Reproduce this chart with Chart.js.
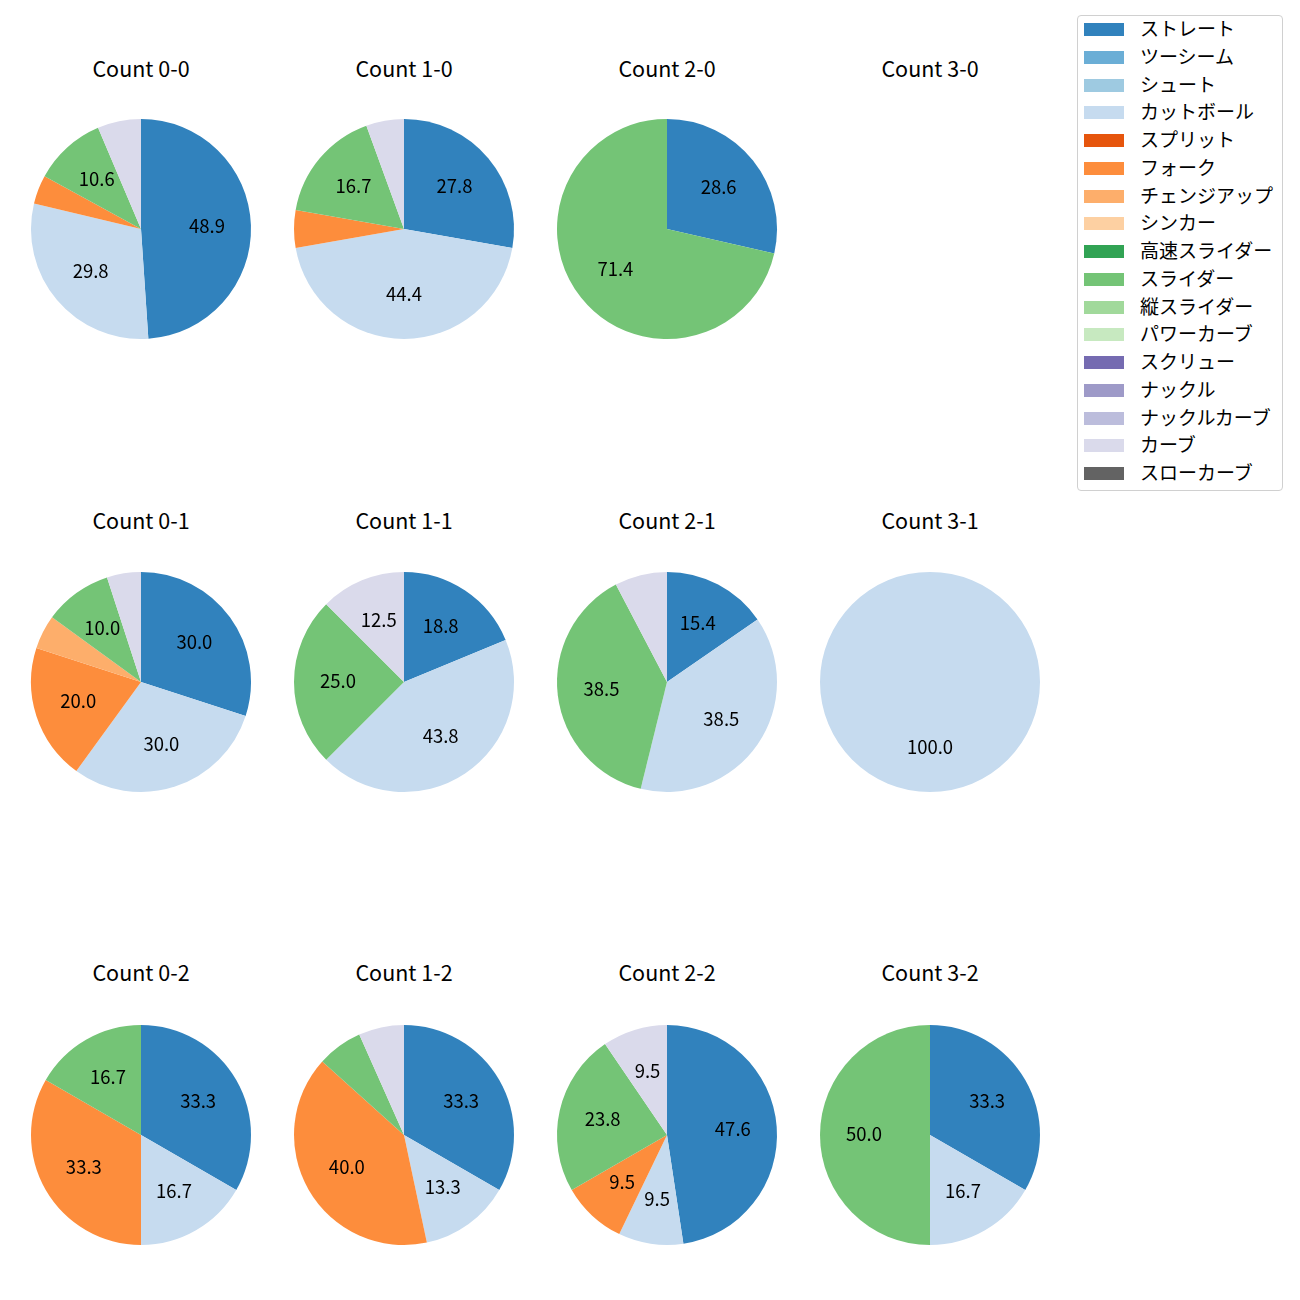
<!DOCTYPE html>
<html>
<head>
<meta charset="utf-8">
<script src="https://cdn.jsdelivr.net/npm/chart.js@4.4.0/dist/chart.umd.min.js"></script>
<style>
  body { margin: 0; background: #fff; font-family: "Noto Sans CJK JP", "Noto Sans", sans-serif; }
  #fig { position: relative; width: 1300px; height: 1300px; }
  .pie { position: absolute; width: 240px; height: 240px; }
  .title { position: absolute; width: 240px; text-align: center; font-size: 21.5px; line-height: 24px; color: #000; }
  #legend { position: absolute; left: 1077px; top: 15px; width: 204px; height: 474px;
            border: 1px solid #d0d0d0; border-radius: 4px; background: #fff; }
  .row { position: absolute; left: 0; height: 28px; }
  .sw { position: absolute; left: 6px; top: 7px; width: 40px; height: 13px; }
  .lt { position: absolute; left: 62px; top: -2px; font-size: 19px; line-height: 28px; white-space: nowrap; color: #000; }
</style>
</head>
<body>
<div id="fig"></div>
<script>
const pitchTypes = ["ストレート", "ツーシーム", "シュート", "カットボール", "スプリット", "フォーク",
  "チェンジアップ", "シンカー", "高速スライダー", "スライダー", "縦スライダー", "パワーカーブ",
  "スクリュー", "ナックル", "ナックルカーブ", "カーブ", "スローカーブ"];
const pitchColors = ["#3182bd", "#6baed6", "#9ecae1", "#c6dbef", "#e6550d", "#fd8d3c",
  "#fdae6b", "#fdd0a2", "#31a354", "#74c476", "#a1d99b", "#c7e9c0",
  "#756bb1", "#9e9ac8", "#bcbddc", "#dadaeb", "#636363"];

const countLabels = ["Count 0-0", "Count 1-0", "Count 2-0", "Count 3-0",
  "Count 0-1", "Count 1-1", "Count 2-1", "Count 3-1",
  "Count 0-2", "Count 1-2", "Count 2-2", "Count 3-2"];

// pitches thrown per type (same order as pitchTypes)
const count00 = [23, 0, 0, 14, 0, 2, 0, 0, 0, 5, 0, 0, 0, 0, 0, 3, 0];
const count10 = [5, 0, 0, 8, 0, 1, 0, 0, 0, 3, 0, 0, 0, 0, 0, 1, 0];
const count20 = [2, 0, 0, 0, 0, 0, 0, 0, 0, 5, 0, 0, 0, 0, 0, 0, 0];
const count30 = [0, 0, 0, 0, 0, 0, 0, 0, 0, 0, 0, 0, 0, 0, 0, 0, 0];
const count01 = [6, 0, 0, 6, 0, 4, 1, 0, 0, 2, 0, 0, 0, 0, 0, 1, 0];
const count11 = [3, 0, 0, 7, 0, 0, 0, 0, 0, 4, 0, 0, 0, 0, 0, 2, 0];
const count21 = [2, 0, 0, 5, 0, 0, 0, 0, 0, 5, 0, 0, 0, 0, 0, 1, 0];
const count31 = [0, 0, 0, 1, 0, 0, 0, 0, 0, 0, 0, 0, 0, 0, 0, 0, 0];
const count02 = [2, 0, 0, 1, 0, 2, 0, 0, 0, 1, 0, 0, 0, 0, 0, 0, 0];
const count12 = [5, 0, 0, 2, 0, 6, 0, 0, 0, 1, 0, 0, 0, 0, 0, 1, 0];
const count22 = [10, 0, 0, 2, 0, 2, 0, 0, 0, 5, 0, 0, 0, 0, 0, 2, 0];
const count32 = [2, 0, 0, 1, 0, 0, 0, 0, 0, 3, 0, 0, 0, 0, 0, 0, 0];
const countData = [count00, count10, count20, count30, count01, count11, count21, count31,
  count02, count12, count22, count32];

const colX = [141, 404, 667, 930];
const rowY = [229, 682, 1135];
const titleY = [56, 508, 960];

// percentage labels at 0.6 radius, skipped for small wedges
const pctLabels = {
  id: "pctLabels",
  afterDatasetsDraw(chart) {
    const ctx = chart.ctx;
    const vals = chart.data.datasets[0].data;
    const total = vals.reduce((a, b) => a + b, 0);
    if (!total) return;
    ctx.save();
    ctx.font = '18.5px "Noto Sans CJK JP", "Noto Sans", sans-serif';
    ctx.fillStyle = "#000";
    ctx.textAlign = "center";
    ctx.textBaseline = "middle";
    chart.getDatasetMeta(0).data.forEach((arc, i) => {
      const pct = vals[i] / total * 100;
      if (pct < 8) return;
      const mid = (arc.startAngle + arc.endAngle) / 2;
      const r = arc.outerRadius * 0.6;
      ctx.fillText(pct.toFixed(1), arc.x + Math.cos(mid) * r, arc.y + Math.sin(mid) * r - 1);
    });
    ctx.restore();
  }
};

const fig = document.getElementById("fig");

countLabels.forEach((label, k) => {
  const cx = colX[k % 4];
  const cy = rowY[Math.floor(k / 4)];

  const t = document.createElement("div");
  t.className = "title";
  t.style.left = (cx - 120) + "px";
  t.style.top = titleY[Math.floor(k / 4)] + "px";
  t.textContent = label;
  fig.appendChild(t);

  const box = document.createElement("div");
  box.className = "pie";
  box.style.left = (cx - 120) + "px";
  box.style.top = (cy - 120) + "px";
  const cv = document.createElement("canvas");
  cv.width = 240;
  cv.height = 240;
  box.appendChild(cv);
  fig.appendChild(box);

  new Chart(cv, {
    type: "pie",
    data: {
      labels: pitchTypes,
      datasets: [{
        data: countData[k],
        backgroundColor: pitchColors,
        borderWidth: 0
      }]
    },
    options: {
      responsive: false,
      animation: false,
      layout: { padding: 10 },
      plugins: { legend: { display: false }, tooltip: { enabled: false } }
    },
    plugins: [pctLabels]
  });
});

const legend = document.createElement("div");
legend.id = "legend";
pitchTypes.forEach((name, i) => {
  const row = document.createElement("div");
  row.className = "row";
  row.style.top = (0 + i * 27.75) + "px";
  const sw = document.createElement("div");
  sw.className = "sw";
  sw.style.background = pitchColors[i];
  const lt = document.createElement("div");
  lt.className = "lt";
  lt.textContent = name;
  row.appendChild(sw);
  row.appendChild(lt);
  legend.appendChild(row);
});
fig.appendChild(legend);
</script>
</body>
</html>
